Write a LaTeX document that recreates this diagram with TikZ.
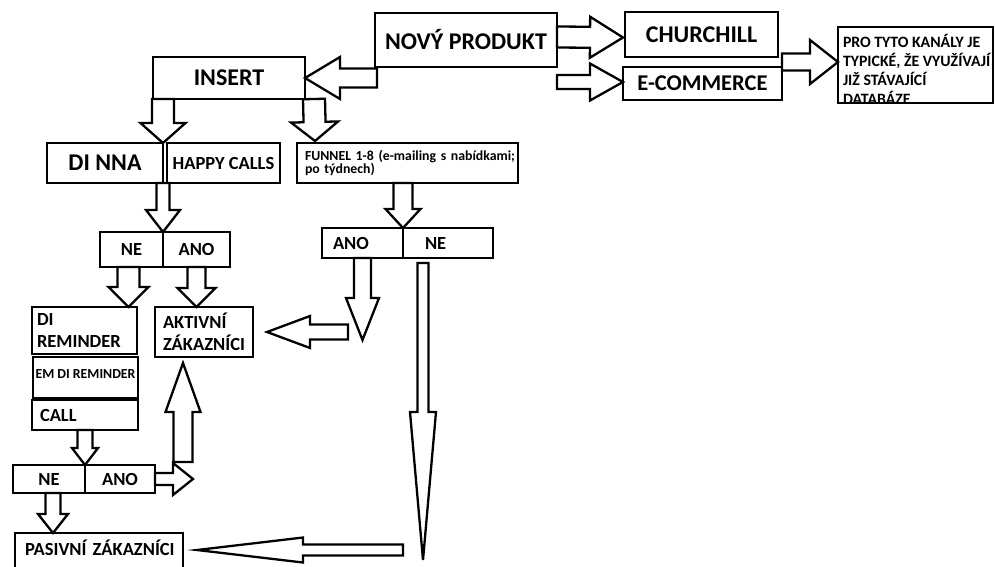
\documentclass[tikz,border=0pt]{standalone}
\usepackage{fontspec}
\setmainfont{Carlito}
\usetikzlibrary{calc}

% start, tip, shaft half width, head half width, head length
\newcommand{\blockarrow}[5]{%
  \coordinate (bs) at #1;
  \coordinate (bt) at #2;
  \coordinate (bc) at ($(bt)!#5!(bs)$);
  \draw[barrow] ($(bs)!#3!90:(bt)$) -- ($(bc)!#3!90:(bt)$) -- ($(bc)!#4!90:(bt)$) -- (bt)
    -- ($(bc)!#4!-90:(bt)$) -- ($(bc)!#3!-90:(bt)$) -- ($(bs)!#3!-90:(bt)$) -- cycle;
}

\begin{document}
\begin{tikzpicture}[x=1pt, y=-1pt,
  box/.style={draw, line width=2.5pt, inner sep=0pt, outer sep=0pt},
  barrow/.style={draw, line width=2.3pt, line join=miter},
  bigtext/.style={font=\fontsize{24}{28}\selectfont\bfseries},
  midtext/.style={font=\fontsize{18.5}{22}\selectfont\bfseries},
  smalltext/.style={font=\fontsize{13.8}{12}\selectfont\bfseries}]
\clip (0,0) rectangle (995,566);
\node[box, bigtext, minimum width=182, minimum height=54] (np) at (466,40) {NOVÝ PRODUKT};
\node[box, bigtext, minimum width=152, minimum height=42] (ins) at (229,78) {INSERT};
\node[box, font=\fontsize{24}{28}\selectfont\bfseries, minimum width=153, minimum height=45] (ch) at (701.5,34.5) {CHURCHILL};
\node[box, font=\fontsize{22.5}{28}\selectfont\bfseries, minimum width=159, minimum height=33] (ec) at (702.5,83.5) {E-COMMERCE};
\node[box, minimum width=155, minimum height=76,
  path picture={\node[draw=none, anchor=north west, inner sep=0pt, minimum width=0pt, minimum height=0pt, align=left,
    font=\fontsize{15.8}{19}\selectfont\bfseries] at ([shift={(5,7.5)}]path picture bounding box.north west)
    {PRO TYTO KANÁLY JE\\TYPICKÉ, ŽE VYUŽÍVAJÍ\\JIŽ STÁVAJÍCÍ\\DATABÁZE};}] (pro) at (915.5,65) {};
\node[box, bigtext, minimum width=116, minimum height=40] (dinna) at (105,163) {DI NNA};
\node[box, midtext, minimum width=113, minimum height=40] (happy) at (223.5,163) {HAPPY CALLS};
\node[box, smalltext, text width=205pt, align=left, inner xsep=8pt, minimum height=40] (funnel) at (407.5,163)
  {\mbox{FUNNEL 1-8 (e-mailing s nabídkami;}\\po týdnech)};
\node[box, midtext, minimum width=63, minimum height=35] (ne1) at (131.5,249.5) {NE};
\node[box, midtext, minimum width=67, minimum height=35] (ano1) at (196.5,249.5) {ANO};
\node[box, midtext, text width=59pt, align=left, inner xsep=11pt, minimum height=30] (ano2) at (362.5,243) {ANO};
\node[box, midtext, text width=46pt, align=left, inner xsep=22pt, minimum height=30] (ne2) at (448,243) {NE};
\node[box, midtext, text width=95pt, align=left, inner xsep=5pt, minimum height=47] (direm) at (84.5,330.5) {DI\\REMINDER};
\node[box, smalltext, text height=9pt, text depth=8pt, minimum width=105, minimum height=41] (emdirem) at (85.5,377.5) {EM DI REMINDER};
\node[box, midtext, text width=90pt, align=left, inner xsep=8pt, minimum height=30] (call) at (85,415) {CALL};
\node[box, midtext, text width=82pt, align=left, inner xsep=8pt, minimum height=50] (akt) at (204,332) {AKTIVNÍ\\ZÁKAZNÍCI};
\node[box, midtext, minimum width=72, minimum height=28] (ne3) at (49,479) {NE};
\node[box, midtext, minimum width=70, minimum height=28] (ano3) at (120,479) {ANO};
\node[box, midtext, text width=148pt, align=left, inner xsep=10pt, text depth=7pt, minimum height=36] (pas) at (99,551)
  {\mbox{PASIVNÍ ZÁKAZNÍCI}};
\coordinate (anofree) at (362.5,340);
\coordinate (nefree) at (423,560);
\coordinate (upfoot) at (183,462);
\blockarrow{($(np.south west)+(2,11)$)}{(ins.east)}{9.5pt}{21pt}{35pt}
\blockarrow{($(np.east)+(0,-3)$)}{($(ch.west)+(-2,3)$)}{10.5pt}{20.5pt}{33pt}
\blockarrow{($(np.south east)+(0,15)$)}{($(ec.west)+(0,-1.5)$)}{7pt}{18.5pt}{33pt}
\blockarrow{($(ec.north east)+(0,-5)$)}{($(pro.west)+(0,-3)$)}{8.5pt}{22pt}{28pt}
\blockarrow{($(ins.south west)+(10,0)$)}{(dinna.north east)}{11pt}{22.5pt}{20pt}
\blockarrow{($(ins.south east)+(9,0)$)}{($(funnel.north west)+(18,-2)$)}{11pt}{23.5pt}{19pt}
\blockarrow{(dinna.south east)}{(ne1.north east)}{6.5pt}{17pt}{22pt}
\blockarrow{($(funnel.south)+(-4.5,0)$)}{(ano2.north east)}{9.5pt}{17.5pt}{19pt}
\blockarrow{($(ne1.south)+(-3,0)$)}{($(direm.north east)+(-8.5,0)$)}{11pt}{20pt}{20pt}
\blockarrow{(ano1.south)}{($(akt.north)+(-7.5,0)$)}{9pt}{19pt}{19pt}
\blockarrow{(ano2.south)}{(anofree)}{8.5pt}{16.5pt}{42pt}
\blockarrow{($(anofree)+(-14.5,-8)$)}{($(akt.east)+(14,0)$)}{7.5pt}{16pt}{43pt}
\blockarrow{($(ne2.south)+(-25,5)$)}{(nefree)}{5.5pt}{13pt}{148pt}
\blockarrow{($(nefree)+(-20,-10)$)}{($(pas.east)+(14,-1)$)}{5.5pt}{12.5pt}{106pt}
\blockarrow{($(call.south west)+(53,0)$)}{(ne3.north east)}{7.5pt}{13pt}{17pt}
\blockarrow{(ano3.east)}{($(ano3.east)+(38,0)$)}{6pt}{16pt}{20pt}
\blockarrow{(upfoot)}{($(akt.south)+(-21,6)$)}{9.5pt}{17.5pt}{49pt}
\blockarrow{($(ne3.south)+(4,0)$)}{($(pas.north west)+(38,0)$)}{7.5pt}{15pt}{19pt}
\end{tikzpicture}
\end{document}
